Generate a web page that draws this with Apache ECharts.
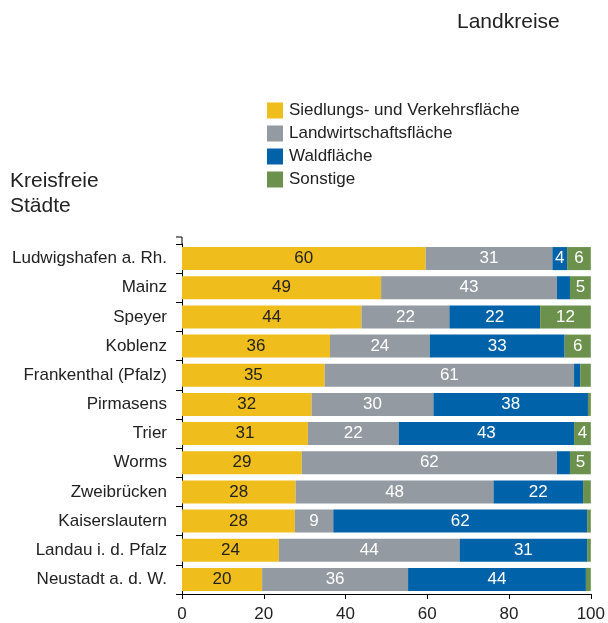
<!DOCTYPE html>
<html>
<head>
<meta charset="utf-8">
<script src="https://cdn.jsdelivr.net/npm/echarts@6/dist/echarts.min.js"></script>
<style>
  html, body { margin: 0; padding: 0; background: #fff; }
  #chart { width: 608px; height: 623px; }
</style>
</head>
<body>
<div id="chart"></div>
<script>
// Flächennutzung in % – Kreisfreie Städte
const cities = [
  "Ludwigshafen a. Rh.", "Mainz", "Speyer", "Koblenz", "Frankenthal (Pfalz)",
  "Pirmasens", "Trier", "Worms", "Zweibrücken", "Kaiserslautern",
  "Landau i. d. Pfalz", "Neustadt a. d. W."
];
const siedlung = [59.6, 48.7, 43.9, 36.2, 34.9, 31.7, 30.8, 29.3, 27.8, 27.6, 23.7, 19.6];
const landwirtschaft = [31.0, 43.0, 21.5, 24.4, 61.0, 29.8, 22.2, 62.4, 48.4, 9.4, 44.2, 35.7];
const wald = [3.6, 3.2, 22.2, 33.0, 1.5, 37.8, 42.9, 3.2, 21.9, 62.1, 31.2, 43.5];
const sonstige = [5.8, 5.1, 12.4, 6.4, 2.6, 0.7, 4.1, 5.1, 1.9, 0.9, 0.9, 1.2];
const xTicks = [0, 20, 40, 60, 80, 100];

const font = "Liberation Sans, Arial, sans-serif";
const gridLeft = 182;
const gridTop = 244;

function series(name, data, color, labelColor) {
  return {
    name: name,
    type: "bar",
    stack: "all",
    barCategoryGap: "21%",
    itemStyle: { color: color },
    label: {
      show: true,
      position: "inside",
      color: labelColor,
      fontFamily: font,
      fontSize: 17,
      // kleine Anteile ohne Beschriftung
      formatter: (p) => (p.value >= 3.5 ? Math.round(p.value) : "")
    },
    data: data
  };
}

const chart = echarts.init(document.getElementById("chart"));
chart.setOption({
  animation: false,
  textStyle: { fontFamily: font },
  title: [
    {
      text: "Kreisfreie\nStädte",
      left: 5,
      top: 164,
      textStyle: { fontFamily: font, fontSize: 21, fontWeight: "normal", color: "#222", lineHeight: 25 }
    },
    {
      text: "Landkreise",
      left: 452,
      top: 7,
      textStyle: { fontFamily: font, fontSize: 21, fontWeight: "normal", color: "#222" }
    }
  ],
  legend: {
    orient: "vertical",
    left: 262,
    top: 97,
    itemWidth: 16,
    itemHeight: 16,
    itemGap: 6,
    icon: "rect",
    textStyle: { fontFamily: font, fontSize: 17, color: "#222", padding: [0, 0, 0, 1] },
    data: ["Siedlungs- und Verkehrsfläche", "Landwirtschaftsfläche", "Waldfläche", "Sonstige"]
  },
  grid: { left: gridLeft, right: 16, top: gridTop, bottom: 29, containLabel: false },
  // Achse ragt oben etwas über die erste Kategorie hinaus
  graphic: [
    {
      type: "polyline",
      shape: { points: [[gridLeft - 6, gridTop - 7], [gridLeft, gridTop - 7], [gridLeft, gridTop]] },
      style: { stroke: "#000", lineWidth: 1, fill: null },
      z: 10
    }
  ],
  xAxis: {
    type: "value",
    min: xTicks[0],
    max: xTicks[xTicks.length - 1],
    interval: xTicks[1] - xTicks[0],
    splitLine: { show: false },
    axisLine: { show: true, lineStyle: { color: "#000", width: 1 } },
    axisTick: { show: true, length: 5, lineStyle: { color: "#000" } },
    axisLabel: { fontFamily: font, fontSize: 17, color: "#222", margin: 12 }
  },
  yAxis: {
    type: "category",
    inverse: true,
    data: cities,
    axisLine: { show: true, lineStyle: { color: "#000", width: 1 } },
    axisTick: { show: true, length: 6, lineStyle: { color: "#000" } },
    axisLabel: { fontFamily: font, fontSize: 17, color: "#222", margin: 15 }
  },
  series: [
    series("Siedlungs- und Verkehrsfläche", siedlung, "#EFBD1C", "#222"),
    series("Landwirtschaftsfläche", landwirtschaft, "#949AA1", "#fff"),
    series("Waldfläche", wald, "#0062A8", "#fff"),
    series("Sonstige", sonstige, "#6B914D", "#fff")
  ]
});
</script>
</body>
</html>
